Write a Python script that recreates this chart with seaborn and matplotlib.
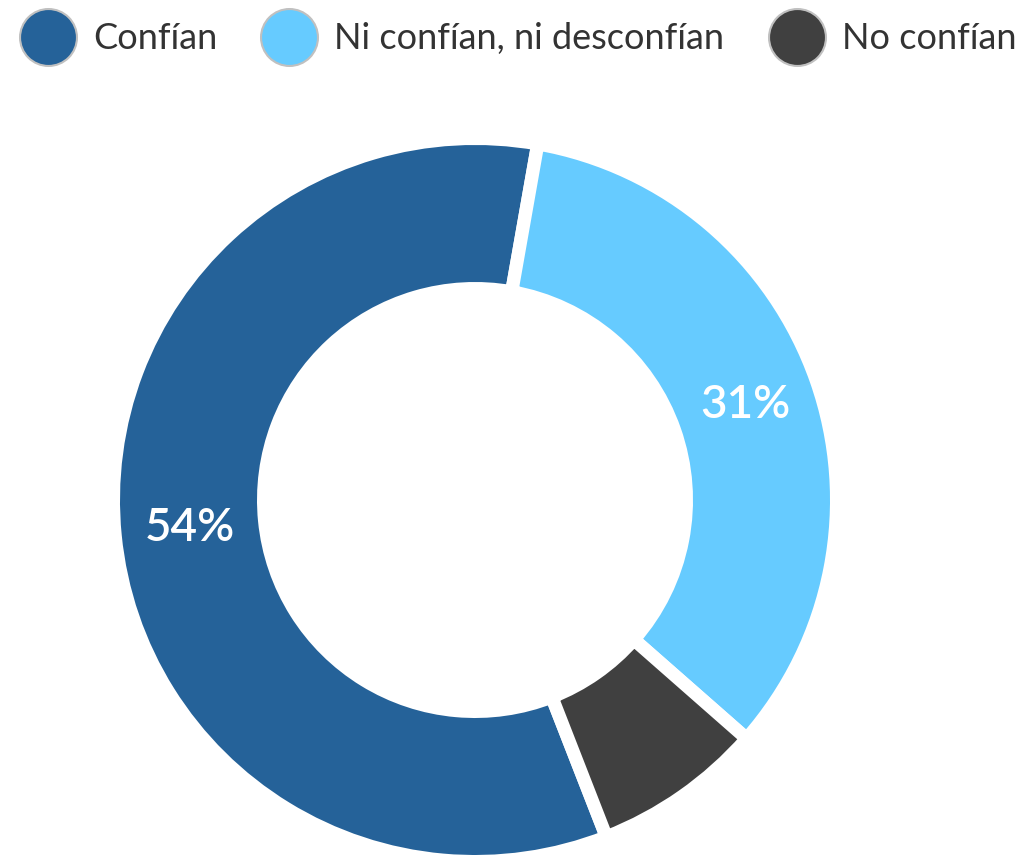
import numpy as np
import matplotlib
matplotlib.use("Agg")
import matplotlib.pyplot as plt
from matplotlib.lines import Line2D
import seaborn as sns

categories = ["Confían", "Ni confían, ni desconfían", "No confían"]
values = [54, 31, 7]
value_labels = ["54%", "31%", ""]
colors = ["#256299", "#66CBFF", "#404040"]

sns.set_theme(style="white")
plt.rcParams['font.family'] = ['Lato', 'DejaVu Sans']

W, H = 1035, 855
fig = plt.figure(figsize=(W / 100, H / 100), dpi=100)
fig.patch.set_facecolor("white")

cx, cy = 475, 500          # donut centre in pixels (from top)
half = 370                  # half-size of the axes box in pixels
ax = fig.add_axes([(cx - half) / W, (H - cy - half) / H, 2 * half / W, 2 * half / H])

gap_pt = 9.5
gap_px = gap_pt * 100 / 72
outer_r = 355 + gap_px / 2
inner_r = 218 - gap_px / 2
total = sum(values)
# Confían ends ~10 degrees clockwise from the top
end_first = 10.0
start_clock = end_first - 360.0 * values[0] / total
startangle = 90 - start_clock

wedges, _ = ax.pie(values, colors=colors, startangle=startangle, counterclock=False,
                   radius=outer_r, wedgeprops=dict(width=outer_r - inner_r,
                                                   edgecolor="white", linewidth=gap_pt))
ax.set_xlim(-half, half)
ax.set_ylim(-half, half)
ax.set_aspect("equal")
ax.axis("off")

mid_r = (355 + 218) / 2
for w, lab in zip(wedges, value_labels):
    if not lab:
        continue
    ang = np.deg2rad((w.theta1 + w.theta2) / 2)
    ax.text(mid_r * np.cos(ang), mid_r * np.sin(ang), lab, ha="center", va="center",
            color="white", fontsize=33, fontweight="semibold")

handles = [Line2D([0], [0], marker="o", linestyle="", markersize=41,
                  markerfacecolor=c, markeredgecolor="#c0c0c0", markeredgewidth=1.5)
           for c in colors]
fig.legend(handles, categories, loc="upper center", bbox_to_anchor=(0.5, 0.995),
           ncol=3, frameon=False, fontsize=26, labelcolor="#333333",
           handletextpad=0.45, columnspacing=1.2, borderaxespad=0.1,
           handlelength=1.6)

fig.savefig("out.png", dpi=100, facecolor="white")
